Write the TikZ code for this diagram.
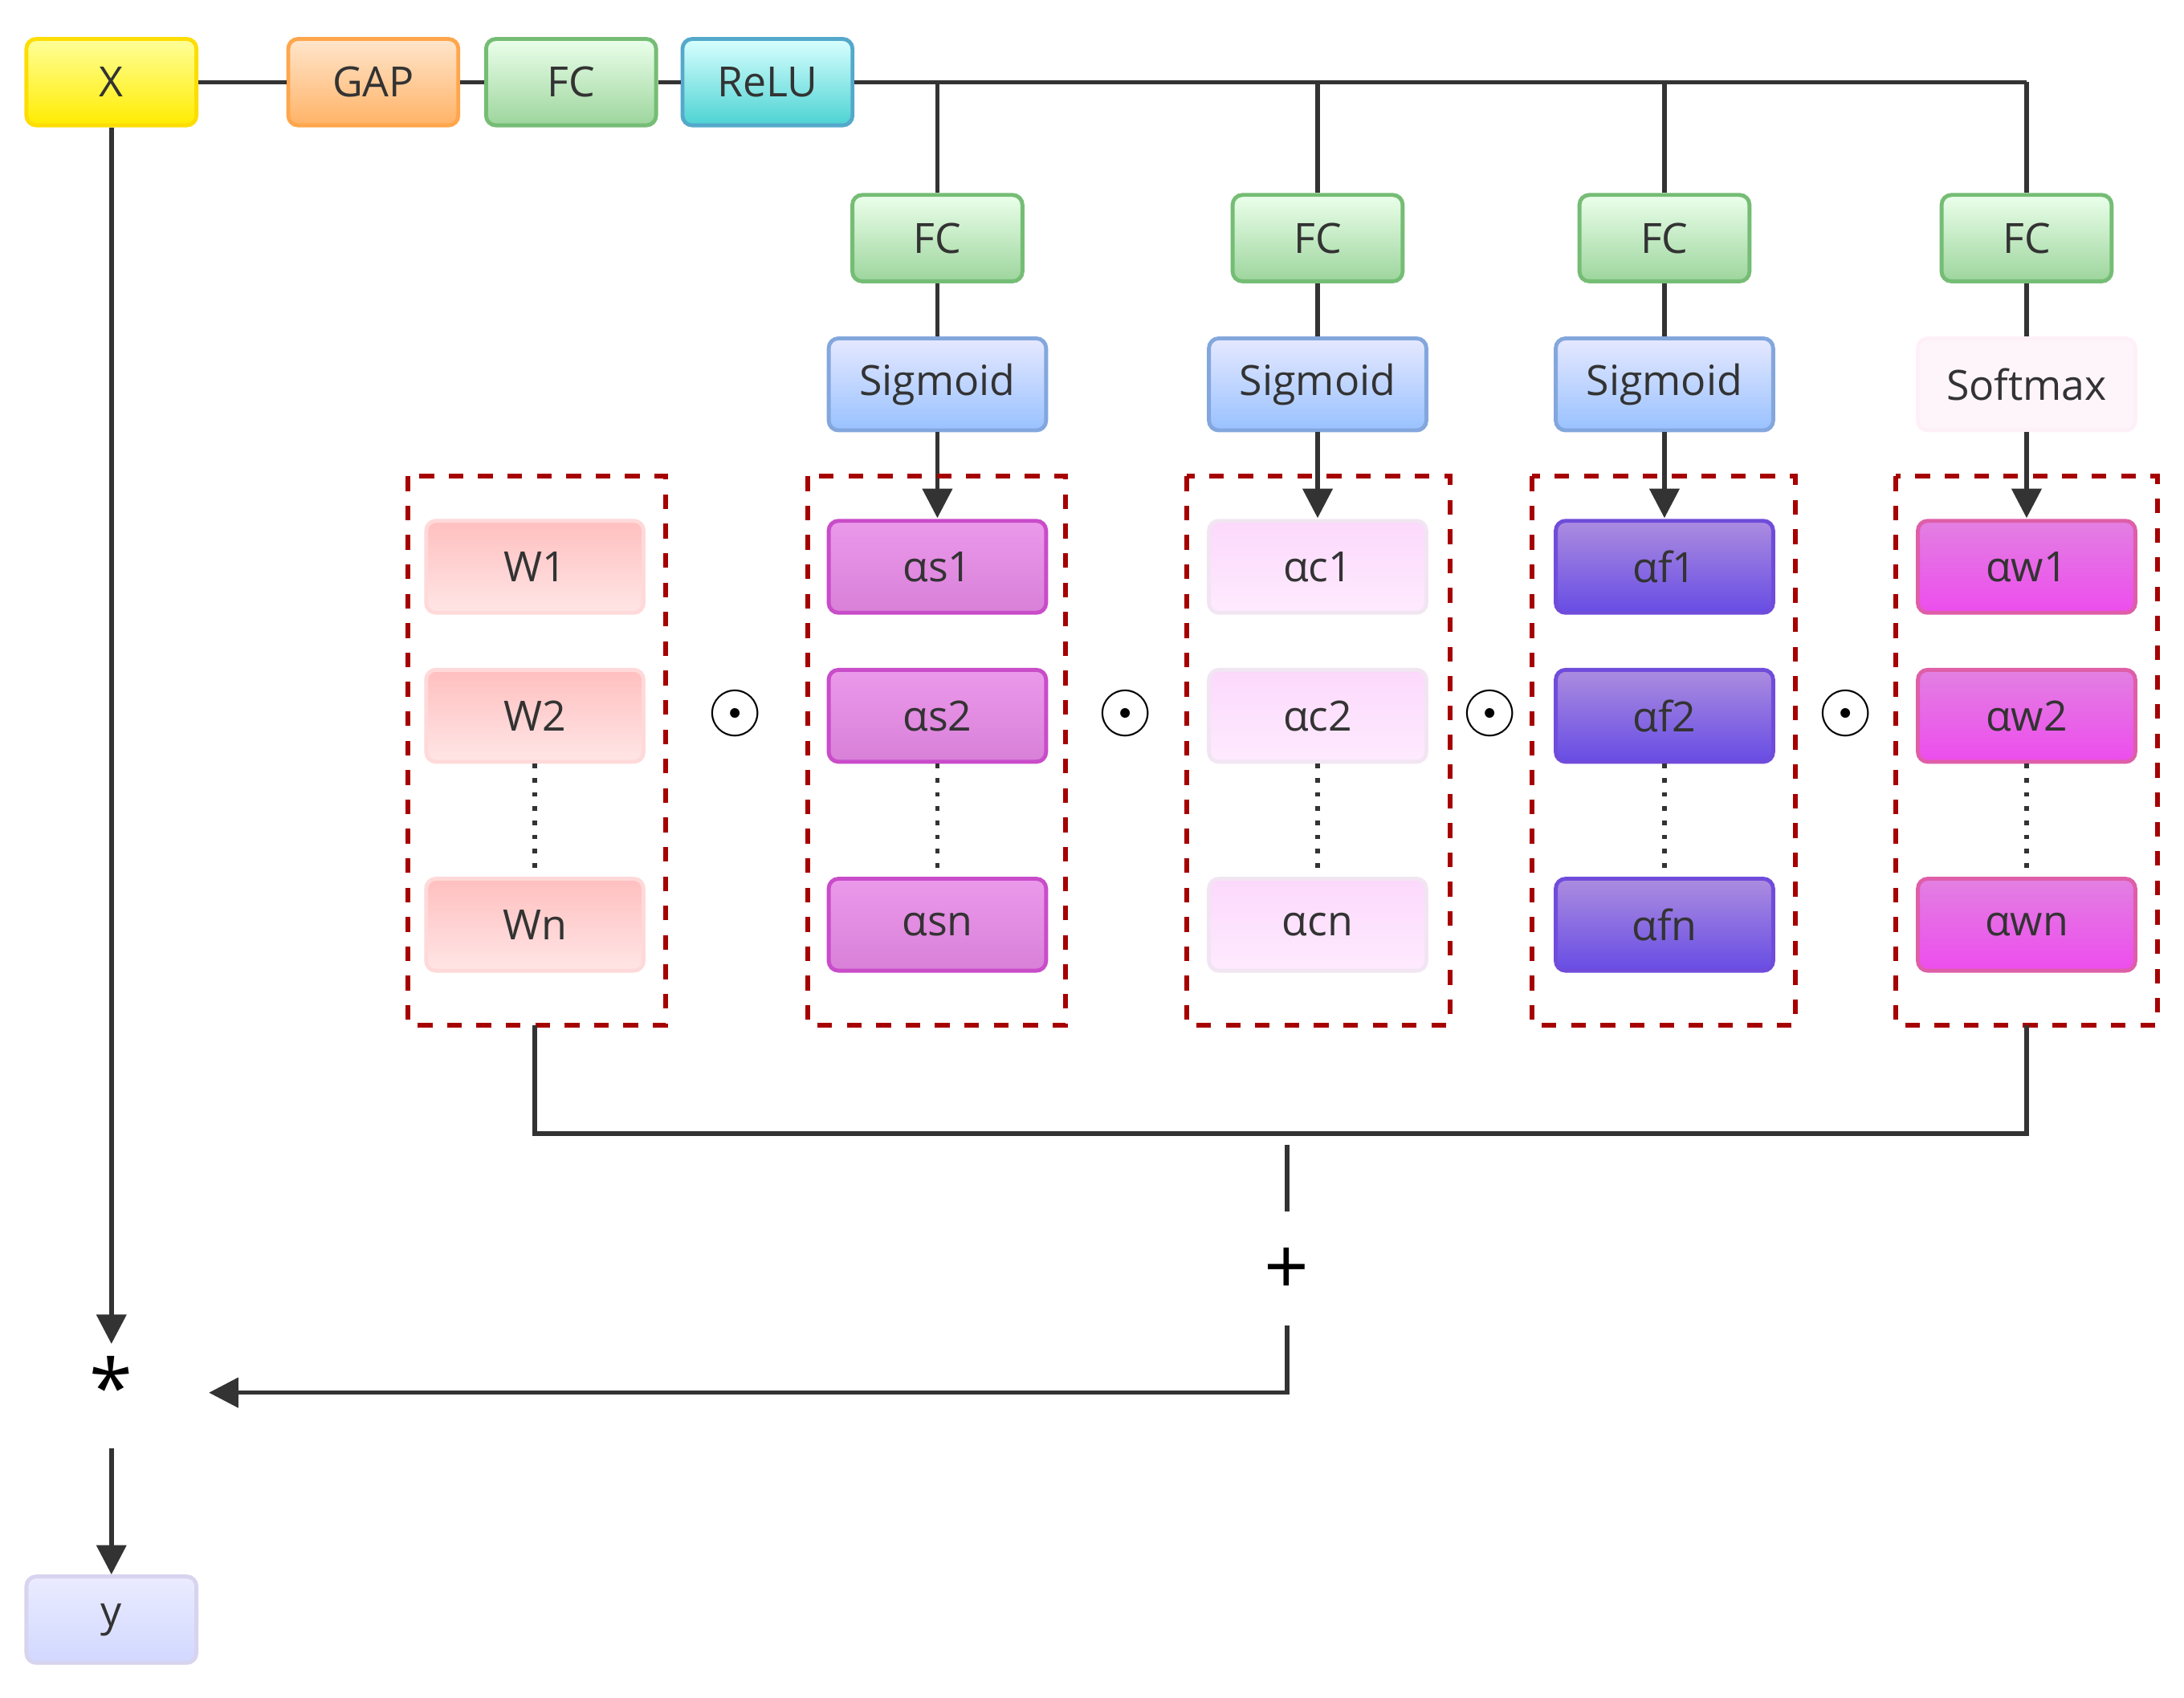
\documentclass[tikz,border=0pt]{standalone}
\usepackage{fontspec}
\setmainfont{Open Sans}
\usetikzlibrary{arrows.meta}
\begin{document}
\begin{tikzpicture}[x=0.01cm,y=-0.01cm,
 box/.style={draw, rounded corners=2pt, line width=0.8pt, minimum width=1.22cm, minimum height=0.62cm, font=\fontsize{8.5}{10}\selectfont, text=black!80},
 wide/.style={box, minimum width=1.56cm, minimum height=0.66cm},
 ln/.style={line width=0.9pt, draw=black!80},
 arr/.style={ln, -{Triangle[length=6pt,width=6pt]}},
 dbox/.style={draw=red!65!black, dashed, line width=1pt},
 op/.style={font=\fontsize{14}{16}\selectfont}]
\useasboundingbox (0,0) rectangle (1568,1219);
\tikzset{
 yel/.style={top color=yellow!40, bottom color=yellow!85!orange, draw=yellow!80!orange},
 org/.style={top color=orange!20, bottom color=orange!60, draw=orange!70},
 grn/.style={top color=green!8!white, bottom color=green!40!gray!55, draw=green!35!gray!80},
 cya/.style={top color=cyan!15, bottom color=cyan!50!teal!70, draw=cyan!60!gray},
 blu/.style={top color=cyan!10!blue!10, bottom color=cyan!40!blue!40, draw=cyan!50!blue!50},
 pnk/.style={top color=red!25, bottom color=red!10, draw=red!15},
 pur/.style={top color=violet!40!magenta!40, bottom color=violet!60!magenta!50, draw=violet!60!magenta!70},
 lpur/.style={top color=violet!15!magenta!15, bottom color=violet!8!magenta!8, draw=violet!10},
 vio/.style={top color=blue!45!violet!45, bottom color=blue!70!violet!70, draw=blue!60!violet!70},
 mag/.style={top color=magenta!55!violet!50, bottom color=magenta!80!violet!70, draw=magenta!70!violet!70},
 sft/.style={fill=magenta!4, draw=magenta!6},
 ybl/.style={top color=cyan!5!blue!8, bottom color=cyan!15!blue!18, draw=cyan!10!blue!15}}
\node[box,yel] (X) at (80,59) {X};
\node[box,org] (gap) at (268,59) {GAP};
\node[box,grn] (fc0) at (410,59) {FC};
\node[box,cya] (relu) at (551,59) {ReLU};
\coordinate (end) at (1455,59);
\draw[ln] (X)--(gap) (gap)--(fc0) (fc0)--(relu) (relu)--(end);
\foreach \n/\x/\act/\st/\lab/\c in {a/673/Sigmoid/blu/s/pur, b/946/Sigmoid/blu/c/lpur, c/1195/Sigmoid/blu/f/vio, d/1455/Softmax/sft/w/mag}{
 \coordinate (t\n) at (\x,59);
 \node[box,grn] (fc\n) at (\x,171) {FC};
 \node[wide,\st] (act\n) at (\x,276) {\act};
 \node[wide,\c] (\n1) at (\x,407) {α\lab1};
 \node[wide,\c] (\n2) at (\x,514) {α\lab2};
 \node[wide,\c] (\n3) at (\x,664) {α\lab n};
 \coordinate (top\n) at (\x,372);
 \draw[ln] (t\n)--(fc\n) (fc\n)--(act\n);
 \draw[arr] (act\n)--(top\n);
 \draw[ln,dotted] (\n2)--(\n3);
}
\node[wide,pnk] (w1) at (384,407) {W1};
\node[wide,pnk] (w2) at (384,514) {W2};
\node[wide,pnk] (w3) at (384,664) {Wn};
\draw[ln,dotted] (w2)--(w3);
\draw[dbox] (293,342) rectangle (478,736);
\draw[dbox] (580,342) rectangle (765,736);
\draw[dbox] (852,342) rectangle (1041,736);
\draw[dbox] (1100,342) rectangle (1289,736);
\draw[dbox] (1361,342) rectangle (1549,736);
\foreach \x [count=\i] in {528,808,1070,1325}{\node[op] (o\i) at (\x,512) {$\odot$};}
\coordinate (bl) at (384,736); \coordinate (br) at (1455,736);
\draw[ln] (bl)--(384,814)--(1455,814)--(br);
\coordinate (p1) at (924,822); \coordinate (p2) at (924,870);
\draw[ln] (p1)--(p2);
\node[font=\fontsize{16}{18}\selectfont] (plus) at (924,913) {+};
\node[font=\fontsize{16}{18}\selectfont] (star) at (80,995) {*};
\coordinate (q1) at (924,952);
\coordinate (sa) at (150,1000);
\draw[arr] (q1)--(924,1000)--(sa);
\coordinate (xa) at (80,965);
\draw[arr] (X)--(xa);
\node[box,ybl] (y) at (80,1163) {y};
\coordinate (s1) at (80,1040);
\draw[arr] (s1)--(y);
\end{tikzpicture}
\end{document}
